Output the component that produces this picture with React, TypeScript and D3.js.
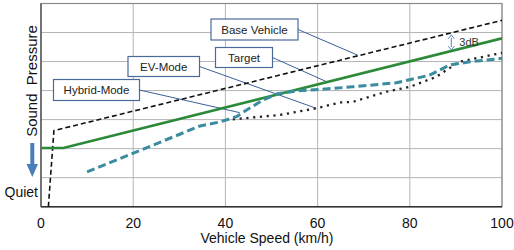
import React from "react";
import * as d3 from "d3";

const xTicks = [0, 20, 40, 60, 80, 100];
const yGrid = [0, 1, 2, 3, 4, 5, 6, 7];

const baseVehicle: [number, number][] = [[1.6, 0], [2.8, 2.62], [100, 6.42]];
const target: [number, number][] = [[0, 2.02], [4.85, 2.02], [100, 5.8]];
const evMode: [number, number][] = [
  [10, 1.2], [34.5, 2.78], [38.8, 2.92], [42.4, 3.1], [44.6, 3.33], [48.1, 3.67],
  [51.1, 3.88], [55.4, 3.99], [60.5, 4.04], [67.6, 4.13], [77.1, 4.27], [84.3, 4.53],
  [88.6, 4.88], [93, 4.99], [100, 5.11],
];
const hybridMode: [number, number][] = [
  [41.6, 3.01], [51.8, 3.16], [59.7, 3.39], [64.8, 3.59], [67.6, 3.61], [74.9, 3.96],
  [80, 4.13], [85.7, 4.47], [90.7, 4.99], [100, 5.3],
];

// label boxes: text, box (x,y,w,h) in px, leader end in data coords
const labels = [
  { text: "Base Vehicle", box: [211, 19, 87, 21], to: [68.7, 5.22] },
  { text: "Target", box: [215.5, 47.5, 57, 20], to: [61.9, 4.31] },
  { text: "EV-Mode", box: [128, 56.5, 71.5, 20], to: [59.7, 3.39] },
  { text: "Hybrid-Mode", box: [53.5, 79.5, 86, 21], to: [43.1, 3.24] },
];

export default function App() {
  const left = 41, right = 502, top = 3.5, bottom = 206.7;
  const x = d3.scaleLinear().domain([0, 100]).range([left, right]);
  const y = d3.scaleLinear().domain([0, 7]).range([bottom, top]);
  const line = d3.line<[number, number]>().x((d) => x(d[0])).y((d) => y(d[1]));
  const font = "'Liberation Sans', Arial, sans-serif";

  const arrowX = x(89);
  const baseAt = (s: number) => {
    const [a, b] = [baseVehicle[1], baseVehicle[2]];
    return a[1] + ((b[1] - a[1]) * (s - a[0])) / (b[0] - a[0]);
  };
  const targAt = (s: number) => {
    const [a, b] = [target[1], target[2]];
    return a[1] + ((b[1] - a[1]) * (s - a[0])) / (b[0] - a[0]);
  };
  const yA = y(baseAt(89)) + 2;
  const yB = y(targAt(89)) - 1;

  return (
    <svg width={514} height={250} style={{ position: "absolute", left: 0, top: 0, background: "#fff" }} fontFamily={font}>
      <defs>
        <clipPath id="plot">
          <rect x={left} y={top} width={right - left} height={bottom - top} />
        </clipPath>
      </defs>
      {/* grid */}
      {yGrid.map((v) => (
        <line key={"h" + v} x1={left} x2={right} y1={y(v)} y2={y(v)} stroke="#b4b4b4" strokeWidth={1} />
      ))}
      {xTicks.map((v) => (
        <line key={"v" + v} x1={x(v)} x2={x(v)} y1={top} y2={bottom} stroke="#b4b4b4" strokeWidth={1} />
      ))}
      <rect x={left} y={top} width={right - left} height={bottom - top} fill="none" stroke="#8a8a8a" strokeWidth={1.2} />
      <line x1={left} x2={left} y1={top} y2={bottom} stroke="#555" strokeWidth={1.3} />
      <line x1={left} x2={right} y1={bottom} y2={bottom} stroke="#333" strokeWidth={1.5} />

      {/* leader lines */}
      {labels.map((l) => (
        <line key={"l" + l.text} x1={l.box[0] + l.box[2]} y1={l.box[1] + l.box[3] / 2} x2={x(l.to[0])} y2={y(l.to[1])} stroke="#3c5f9c" strokeWidth={1} />
      ))}

      <g clipPath="url(#plot)">
        <path d={line(baseVehicle) || ""} fill="none" stroke="#111" strokeWidth={1.6} strokeDasharray="5,3" />
        <path d={line(target) || ""} fill="none" stroke="#2a8a3a" strokeWidth={2.6} />
        <path d={line(hybridMode) || ""} fill="none" stroke="#222" strokeWidth={2.3} strokeDasharray="2.2,4.6" />
        <path d={line(evMode) || ""} fill="none" stroke="#3a8c9e" strokeWidth={3} strokeDasharray="8,4" />
      </g>

      {/* label boxes */}
      {labels.map((l) => (
        <g key={"b" + l.text}>
          <rect x={l.box[0]} y={l.box[1]} width={l.box[2]} height={l.box[3]} fill="#fff" stroke="#4a6a9c" strokeWidth={1.2} />
          <text x={l.box[0] + l.box[2] / 2} y={l.box[1] + l.box[3] / 2 + 4} textAnchor="middle" fontSize={11.5} fill="#222">{l.text}</text>
        </g>
      ))}

      {/* 3dB annotation */}
      <line x1={arrowX} x2={arrowX} y1={yA + 3} y2={yB - 3} stroke="#5b86c4" strokeWidth={1} />
      <path d={`M${arrowX - 3},${yA + 4} L${arrowX},${yA} L${arrowX + 3},${yA + 4}`} fill="none" stroke="#5b86c4" strokeWidth={1} />
      <path d={`M${arrowX - 3},${yB - 4} L${arrowX},${yB} L${arrowX + 3},${yB - 4}`} fill="none" stroke="#5b86c4" strokeWidth={1} />
      <text x={arrowX + 8} y={46} fontSize={11} fill="#333">3dB</text>

      {/* x ticks */}
      {xTicks.map((v) => (
        <text key={"t" + v} x={x(v)} y={228} textAnchor="middle" fontSize={14} fill="#111">{v}</text>
      ))}
      <text x={267} y={243} textAnchor="middle" fontSize={14} fill="#111">Vehicle Speed (km/h)</text>

      {/* y axis label */}
      <text transform="translate(37,81) rotate(-90)" textAnchor="middle" fontSize={15} fill="#111" style={{ whiteSpace: "pre" }}>Sound  Pressure</text>
      <text x={38} y={197} textAnchor="end" fontSize={14} fill="#111">Quiet</text>

      {/* blue arrow */}
      <line x1={32.3} x2={32.3} y1={143} y2={166} stroke="#4a7ebb" strokeWidth={4} />
      <path d="M26.5,164 L38,164 L32.3,177 Z" fill="#4a7ebb" />
    </svg>
  );
}
